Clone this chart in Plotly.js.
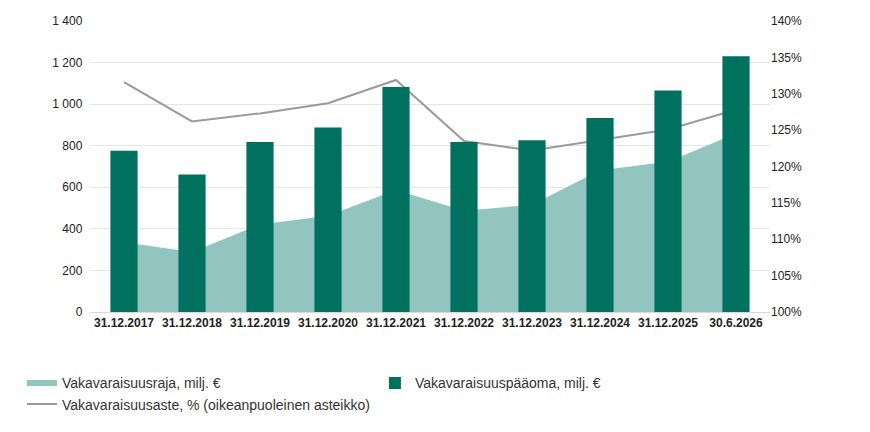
<!DOCTYPE html>
<html><head><meta charset="utf-8">
<script src="https://cdn.plot.ly/plotly-3.0.1.min.js"></script>
<style>body{margin:0}</style></head>
<body><div id="graph" style="width:870px;height:432px"></div>
<script>
const categories = ['31.12.2017','31.12.2018','31.12.2019','31.12.2020','31.12.2021','31.12.2022','31.12.2023','31.12.2024','31.12.2025','30.6.2026'];
const raja = [335, 289, 421, 463, 587, 487, 516, 682, 723, 859];
const paaoma = [776, 661, 818, 888, 1082, 818, 826, 933, 1066, 1231];
const aste = [1.316, 1.262, 1.273, 1.287, 1.319, 1.235, 1.222, 1.236, 1.251, 1.278];

const data = [
  {x: categories, y: raja, type: 'scatter', mode: 'none', fill: 'tozeroy',
   fillcolor: '#93c5c0', name: 'Vakavaraisuusraja, milj. €'},
  {x: categories, y: paaoma, type: 'bar', marker: {color: '#00715f'}, yaxis: 'y3',
   width: 0.4, name: 'Vakavaraisuuspääoma, milj. €'},
  {x: categories, y: aste, type: 'scatter', mode: 'lines', yaxis: 'y2',
   line: {color: '#9a9a9a', width: 2}, name: 'Vakavaraisuusaste, % (oikeanpuoleinen asteikko)'}
];
const layout = {
  width: 870, height: 432,
  margin: {l: 90, r: 100, t: 21, b: 72},
  separators: ', ',
  font: {family: 'Liberation Sans, Arial', size: 12, color: '#222'},
  paper_bgcolor: '#fff', plot_bgcolor: '#fff',
  showlegend: true,
  legend: {orientation: 'h', x: -0.1, xanchor: 'left', y: -0.19, yanchor: 'top',
           font: {size: 14, color: '#333'}, traceorder: 'normal', itemwidth: 30},
  xaxis: {tickfont: {size: 12, color: '#222', weight: 'bold'}, showline: true,
          linecolor: '#d9d9d9', range: [-0.5, 9.5]},
  yaxis: {range: [0, 1400], dtick: 200, tickformat: ',d', gridcolor: '#e6e6e6',
          zeroline: false, ticksuffix: '  '},
  yaxis3: {overlaying: 'y', range: [0, 1400], visible: false},
  yaxis2: {overlaying: 'y', side: 'right', range: [1.0, 1.4], dtick: 0.05,
           tickformat: '.0%', showgrid: false, zeroline: false}
};
Plotly.newPlot('graph', data, layout, {displayModeBar: false});
</script></body></html>
